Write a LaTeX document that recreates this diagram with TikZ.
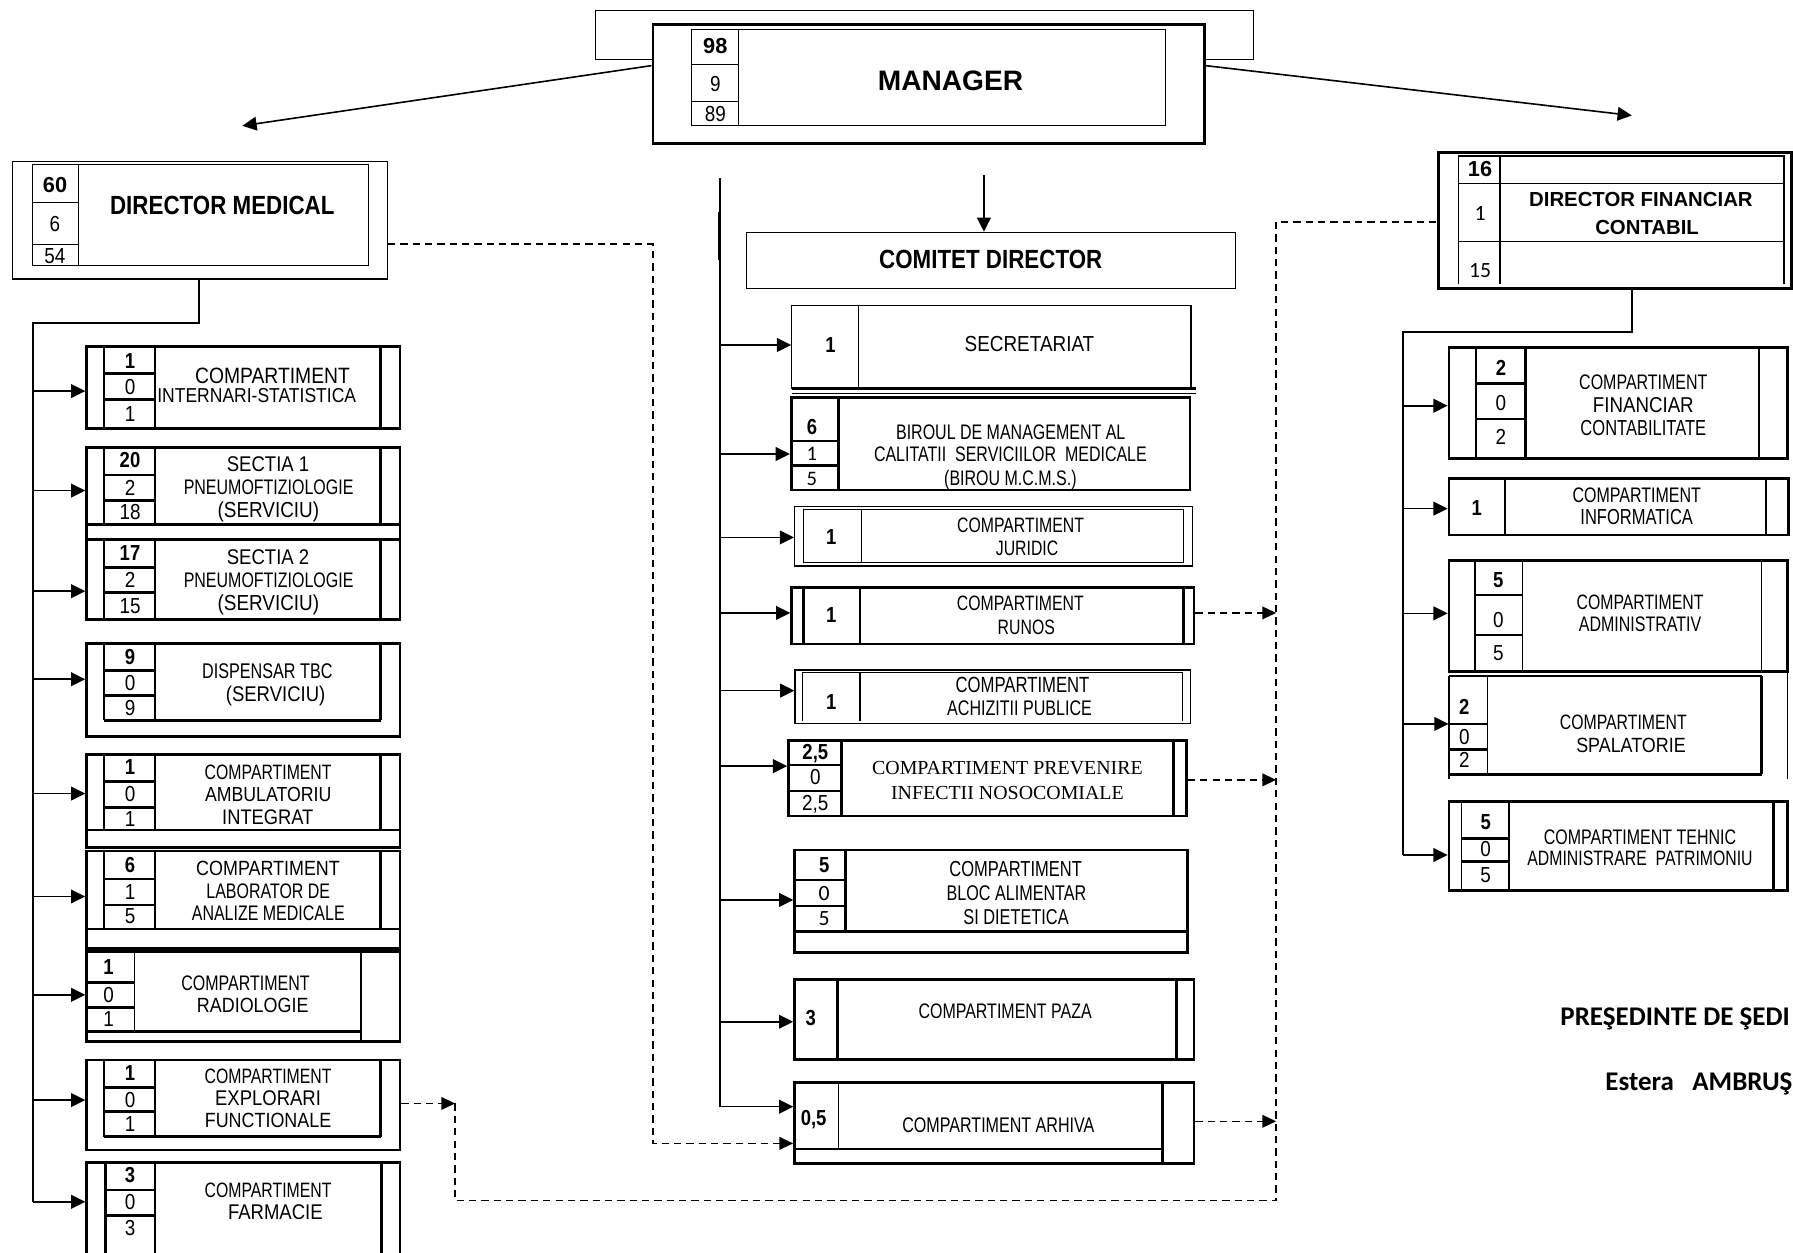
\documentclass[tikz,border=0pt]{standalone}
\usepackage{fontspec}
\setmainfont{Liberation Sans}
\newfontfamily\famNar{Liberation Sans}[FakeStretch=0.76]
\newfontfamily\famMid{Liberation Sans}[FakeStretch=0.87]
\newfontfamily\famNarB{Liberation Sans}[FakeStretch=0.85]
\newfontfamily\famSer{Liberation Serif}
\newfontfamily\famCal{Carlito}
\usetikzlibrary{arrows.meta,fit}
\newcommand\zN[1]{\famNar\fontsize{#1}{#1}\selectfont}
\newcommand\zM[1]{\famMid\fontsize{#1}{#1}\selectfont}
\newcommand\zB[1]{\famNarB\bfseries\fontsize{#1}{#1}\selectfont}
\newcommand\zR[1]{\normalfont\bfseries\fontsize{#1}{#1}\selectfont}
\newcommand\zS[1]{\famSer\fontsize{#1}{#1}\selectfont}
\newcommand\zC[1]{\famCal\fontsize{#1}{#1}\selectfont}
\newcommand\zCB[1]{\famCal\bfseries\fontsize{#1}{#1}\selectfont}
\newcommand\txn[4]{\node[tx,font=#2] (#1) at (#3) {#4};}
\tikzset{
 thn/.style={line width=0.5pt},
 thk/.style={line width=1.25pt},
 medl/.style={line width=0.8pt},
 arr/.style={line width=0.7pt,-{Triangle[length=6.2pt,width=6pt]}},
 darr/.style={line width=0.7pt,dash pattern=on 3.2pt off 2.2pt,-{Triangle[length=6pt,width=5.5pt]}},
 dln/.style={line width=0.7pt,dash pattern=on 3.2pt off 2.2pt},
 bx/.style={draw,inner sep=0pt},
 tx/.style={inner sep=0pt,text height=6.6pt,text depth=0pt},
}
\begin{document}
\begin{tikzpicture}[x=0.5pt,y=-0.5pt]
\useasboundingbox (0,0) rectangle (1568,1095);
\clip (0,0) rectangle (1568,1095);
\fill[white] (0,0) rectangle (1568,1095);

% ================= MANAGER =================
\node[bx,thn,fit={(521,9.3)(1096,51.9)}] (mgrback) {};
\node[bx,thk,fill=white,fit={(571,21.3)(1053,125.3)}] (mgr) {};
\node[bx,thn,fit={(605,25.6)(1019,109.9)}] (mgrtab) {};
\draw[thn] (646,25.6) -- (646,109.9) (605,56.3) -- (646,56.3) (605,88.9) -- (646,88.9);
\txn{m98}{\zR{9.5}}{625.5,40.5}{98}
\txn{m9}{\zM{9.5}}{625.5,73}{9}
\txn{m89}{\zM{9.5}}{625.5,100}{89}
\node[tx,font=\zR{12.3},text height=8.8pt] (mgrt) at (831.2,70) {MANAGER};
\coordinate (mLe) at (212,110);
\coordinate (mRe) at (1427,101);
\draw[arr] ([yshift=7.95pt]mgr.west) -- (mLe);
\draw[arr] ([yshift=7.95pt]mgr.east) -- (mRe);

% ================= COMITET =================
\node[bx,thn,fit={(652.7,203.2)(1080.6,252.2)}] (cd) {};
\node[tx,font=\zB{11.5},text height=8.2pt] (cdt) at (866.4,226.5) {COMITET DIRECTOR};
\coordinate (cdIn) at (860.5,153);
\draw[arr] (cdIn) -- (cdIn |- cd.north);

% central trunk
\coordinate (cTop) at (629.5,156);
\coordinate (cBot) at (629.5,967.8);
\draw[medl] (cTop) -- (cBot);
\draw[line width=1.4pt] (629.5,185) -- (629.5,227.4);

% C1 secretariat
\node[bx,thn,fit={(692.3,267.3)(1041.5,339.6)}] (c1) {};
\draw[thn] (751.1,267.3) -- (751.1,339.6);
\draw[thk] (692.3,339.6) -- (1046.3,339.6);
\draw[thn] (692.3,343.8) -- (1046.3,343.8);
\txn{c1n}{\zB{9.5}}{726.2,301.7}{1}
\txn{c1t}{\zM{9.5}}{900.3,301.1}{SECRETARIAT}
\draw[arr] (cTop |- 0,301.7) -- (c1.west |- 0,301.7);

% C2 biroul
\node[bx,thk,fit={(692,347.5)(1040.7,428.5)}] (c2) {};
\draw[thk] (733.3,347.5) -- (733.3,428.5) (692,385.7) -- (733.3,385.7) (692,407) -- (733.3,407);
\txn{c2n1}{\zB{9.5}}{710,373}{6}
\txn{c2n2}{\zC{9}}{710,396.4}{1}
\txn{c2n3}{\zC{9}}{710,418.3}{5}
\txn{c2t1}{\zN{9.2}}{883.9,377.5}{BIROUL DE MANAGEMENT AL}
\txn{c2t2}{\zN{9.2}}{883.6,397}{CALITATII~ SERVICIILOR~ MEDICALE}
\txn{c2t3}{\zN{9.2}}{883.6,418.3}{(BIROU M.C.M.S.)}
\draw[arr] (cTop |- 0,397) -- (c2.west |- 0,397);

% C3 juridic
\node[bx,thn,fit={(694.9,443.1)(1042.5,495)}] (c3) {};
\draw[thn] (702.4,445.4) rectangle (1034.7,491.8);
\draw[thn] (753.3,445.4) -- (753.3,491.8);
\txn{c3n}{\zB{9.5}}{727,469.9}{1}
\txn{c3t1}{\zN{9.1}}{892.5,459.1}{COMPARTIMENT}
\txn{c3t2}{\zN{9.1}}{898.2,478.9}{JURIDIC}
\draw[arr] (cTop |- 0,470) -- (c3.west |- 0,470);

% C4 runos
\node[bx,thk,fit={(692.4,513.6)(1044.1,563.2)}] (c4) {};
\draw[thk] (702.4,513.6) -- (702.4,563.2) (752.1,513.6) -- (752.1,563.2) (1034.7,513.6) -- (1034.7,563.2);
\txn{c4n}{\zB{9.5}}{727,537.8}{1}
\txn{c4t1}{\zN{9.1}}{892.3,527.6}{COMPARTIMENT}
\txn{c4t2}{\zN{9.1}}{897.5,548}{RUNOS}
\draw[arr] (cTop |- 0,536) -- (c4.west |- 0,536);

% C5 achizitii
\node[bx,thn,fit={(695.2,585.9)(1041.3,632.6)}] (c5) {};
\draw[thn] (701.5,630.2) -- (701.5,588.3) -- (1033.8,588.3) -- (1033.8,630.2);
\draw[thn] (752.1,588.3) -- (752.1,630.2);
\txn{c5n}{\zB{9.5}}{727,613.6}{1}
\txn{c5t1}{\zN{9.6}}{894.2,599}{COMPARTIMENT}
\txn{c5t2}{\zN{9.25}}{891.6,619.4}{ACHIZITII PUBLICE}
\draw[arr] (cTop |- 0,604) -- (c5.west |- 0,604);

% C6 prevenire
\node[bx,thk,fit={(689.6,647.7)(1037.5,713.6)}] (c6) {};
\draw[thk] (735.6,647.7) -- (735.6,713.6) (689.6,669) -- (735.6,669) (689.6,691.7) -- (735.6,691.7) (1026,647.7) -- (1026,713.6);
\txn{c6n1}{\zB{9.5}}{713,657.3}{2,5}
\txn{c6n2}{\zM{9.5}}{713,679.2}{0}
\txn{c6n3}{\zM{9.5}}{713,701.9}{2,5}
\txn{c6t1}{\zS{8.7}}{881,671}{COMPARTIMENT PREVENIRE}
\txn{c6t2}{\zS{8.7}}{881,692.3}{INFECTII NOSOCOMIALE}
\draw[arr] (cTop |- 0,670) -- (c6.west |- 0,670);

% C7 bloc alimentar
\node[bx,thk,fit={(694.9,743.3)(1038.5,833.1)}] (c7) {};
\draw[thk] (739.6,743.3) -- (739.6,814.7) (694.9,769.6) -- (739.6,769.6) (694.9,792.3) -- (739.6,792.3) (694.9,814.7) -- (1038.5,814.7);
\txn{c7n1}{\zB{9.5}}{720.8,756.4}{5}
\txn{c7n2}{\zC{9.5}}{720.8,780.6}{0}
\txn{c7n3}{\zC{9.5}}{720.8,803.1}{5}
\txn{c7t1}{\zN{9.5}}{888.2,760.2}{COMPARTIMENT}
\txn{c7t2}{\zN{9.3}}{888.9,781.2}{BLOC ALIMENTAR}
\txn{c7t3}{\zN{9.4}}{888.5,801.6}{SI DIETETICA}
\draw[arr] (cTop |- 0,787) -- (c7.west |- 0,787);

% C8 paza
\node[bx,thk,fit={(694.9,856.4)(1044.1,926.4)}] (c8) {};
\draw[thk] (732.4,856.4) -- (732.4,926.4) (1029.1,856.4) -- (1029.1,926.4);
\txn{c8n}{\zB{9.5}}{709,890.5}{3}
\txn{c8t}{\zN{9.2}}{879,884.1}{COMPARTIMENT PAZA}
\draw[arr] (cTop |- 0,893.5) -- (c8.west |- 0,893.5);

% C9 arhiva
\node[bx,thk,fit={(694.9,946.5)(1044.1,1017.4)}] (c9) {};
\draw[thn] (733,946.5) -- (733,1004.8);
\draw[thk] (1016.6,946.5) -- (1016.6,1017.4) (694.9,1004.8) -- (1016.6,1004.8);
\txn{c9n}{\zB{9.5}}{711.5,977.4}{0,5}
\txn{c9t}{\zN{9.25}}{873.1,983.8}{COMPARTIMENT ARHIVA}
\draw[arr] (cBot) -- (c9.west |- cBot);

% ================= DIRECTOR MEDICAL =================
\node[bx,thn,fit={(10.8,141.4)(338.7,244)}] (dm) {};
\draw[thn] (28.3,143.7) rectangle (322,232.3);
\draw[thn] (68.5,143.7) -- (68.5,232.3) (28.3,177) -- (68.5,177) (28.3,213.6) -- (68.5,213.6);
\txn{dm60}{\zR{9.5}}{48.1,161.8}{60}
\txn{dm6}{\zM{9.5}}{48.1,196}{6}
\txn{dm54}{\zM{9.5}}{48.1,224}{54}
\node[tx,font=\zB{11.5},text height=8.2pt] (dmt) at (194.4,179) {DIRECTOR MEDICAL};

% left trunk
\coordinate (lTr) at (29.2,282.7);
\draw[medl] (dm.south -| 174,0) -- (174,282.7) -- (lTr) -- (29.2,1051);

% L1
\node[bx,thk,fit={(75.8,303)(349.8,375)}] (l1) {};
\draw[thk] (91,303) -- (91,375) (135.6,303) -- (135.6,375) (333,303) -- (333,375) (91,327) -- (135.6,327) (91,349) -- (135.6,349);
\txn{l1n1}{\zB{9.5}}{113.7,315.5}{1}
\txn{l1n2}{\zM{9.5}}{113.7,338}{0}
\txn{l1n3}{\zM{9.5}}{113.7,362}{1}
\txn{l1t1}{\zM{9.7}}{238.3,328.8}{COMPARTIMENT}
\txn{l1t2}{\zM{8.8}}{224.5,345.4}{INTERNARI-STATISTICA}
\draw[arr] (lTr |- 0,342) -- (l1.west |- 0,342);

% L2 and L3
\node[bx,thk,fit={(75.8,391)(349.8,459)}] (l2) {};
\node[bx,thk,fit={(75.8,471.6)(349.8,542)}] (l3) {};
\draw[thk] (75.8,459) -- (75.8,471.6) (349.8,459) -- (349.8,471.6);
\draw[thk] (91,391) -- (91,459) (135.6,391) -- (135.6,459) (333,391) -- (333,459) (91,415.4) -- (135.6,415.4) (91,437.8) -- (135.6,437.8);
\draw[thk] (91,471.6) -- (91,542) (135.6,471.6) -- (135.6,542) (333,471.6) -- (333,542) (91,496) -- (135.6,496) (91,518) -- (135.6,518);
\txn{l2n1}{\zB{9.5}}{113.7,402.5}{20}
\txn{l2n2}{\zM{9.5}}{113.7,426.5}{2}
\txn{l2n3}{\zM{9.5}}{113.7,448}{18}
\txn{l2t1}{\zM{9.3}}{234.4,406}{SECTIA 1}
\txn{l2t2}{\zN{9.2}}{234.9,426}{PNEUMOFTIZIOLOGIE}
\txn{l2t3}{\zM{9.5}}{234.7,446}{(SERVICIU)}
\draw[arr] (lTr |- 0,429) -- (l2.west |- 0,429);
\txn{l3n1}{\zB{9.5}}{113.7,483.5}{17}
\txn{l3n2}{\zM{9.5}}{113.7,507}{2}
\txn{l3n3}{\zM{9.5}}{113.7,530}{15}
\txn{l3t1}{\zM{9.3}}{234.4,486.8}{SECTIA 2}
\txn{l3t2}{\zN{9.2}}{234.9,507.2}{PNEUMOFTIZIOLOGIE}
\txn{l3t3}{\zM{9.5}}{234.7,527}{(SERVICIU)}
\draw[arr] (lTr |- 0,517) -- (l3.west |- 0,517);

% L4
\node[bx,thk,fit={(75.8,563)(349.8,644)}] (l4) {};
\draw[thk] (91,563) -- (91,630) (135.6,563) -- (135.6,630) (333,563) -- (333,630) (91,586.5) -- (135.6,586.5) (91,608.4) -- (135.6,608.4) (91,630) -- (333,630);
\txn{l4n1}{\zB{9.5}}{113.7,574.5}{9}
\txn{l4n2}{\zM{9.5}}{113.7,597.5}{0}
\txn{l4n3}{\zM{9.5}}{113.7,619}{9}
\txn{l4t1}{\zN{9.3}}{233.8,587}{DISPENSAR TBC}
\txn{l4t2}{\zM{9.3}}{241,607}{(SERVICIU)}
\draw[arr] (lTr |- 0,594) -- (l4.west |- 0,594);

% L5 and L6
\node[bx,thk,fit={(75.8,659.7)(349.8,741)}] (l5) {};
\node[bx,thk,fit={(75.8,744.2)(349.8,829.3)}] (l6) {};
\draw[thk] (91,659.7) -- (91,725.9) (135.6,659.7) -- (135.6,725.9) (333,659.7) -- (333,725.9) (91,683.6) -- (135.6,683.6) (91,706) -- (135.6,706) (75.8,725.9) -- (349.8,725.9);
\draw[thk] (91,744.2) -- (91,812.4) (135.6,744.2) -- (135.6,812.4) (333,744.2) -- (333,812.4) (91,768.7) -- (135.6,768.7) (91,791.4) -- (135.6,791.4) (75.8,812.4) -- (349.8,812.4);
\txn{l5n1}{\zB{9.5}}{113.7,671}{1}
\txn{l5n2}{\zM{9.5}}{113.7,694.5}{0}
\txn{l5n3}{\zM{9.5}}{113.7,716}{1}
\txn{l5t1}{\zN{9.1}}{234.5,674.8}{COMPARTIMENT}
\txn{l5t2}{\zM{8.9}}{234.5,694.4}{AMBULATORIU}
\txn{l5t3}{\zM{9.2}}{234.2,714.2}{INTEGRAT}
\draw[arr] (lTr |- 0,694) -- (l5.west |- 0,694);
\txn{l6n1}{\zB{9.5}}{113.7,756}{6}
\txn{l6n2}{\zM{9.5}}{113.7,780}{1}
\txn{l6n3}{\zM{9.5}}{113.7,801}{5}
\txn{l6t1}{\zM{9.0}}{234.4,759.4}{COMPARTIMENT}
\txn{l6t2}{\zN{9.2}}{234.6,778.9}{LABORATOR DE}
\txn{l6t3}{\zN{9.2}}{234.6,798.1}{ANALIZE MEDICALE}
\draw[arr] (lTr |- 0,784) -- (l6.west |- 0,784);

% L7
\node[bx,thk,fit={(75.8,832.3)(349.8,911)}] (l7) {};
\draw[thn] (117.5,832.3) -- (117.5,902);
\draw[thk] (315.7,832.3) -- (315.7,911) (75.8,859) -- (117.5,859) (75.8,881) -- (117.5,881) (75.8,902) -- (315.7,902);
\txn{l7n1}{\zB{9.5}}{95,846}{1}
\txn{l7n2}{\zM{9.5}}{95,870}{0}
\txn{l7n3}{\zM{9.5}}{95,891}{1}
\txn{l7t1}{\zN{9.2}}{214.7,859.3}{COMPARTIMENT}
\txn{l7t2}{\zM{9.0}}{221,878.9}{RADIOLOGIE}
\draw[arr] (lTr |- 0,870) -- (l7.west |- 0,870);

% L8
\node[bx,thk,fit={(75.8,927)(349.8,1005.7)}] (l8) {};
\draw[thk] (91,927) -- (91,994) (333,927) -- (333,994) (91,950.9) -- (135.6,950.9) (91,972) -- (135.6,972) (91,994) -- (333,994);
\draw[thn] (135.6,927) -- (135.6,994);
\txn{l8n1}{\zB{9.5}}{113.7,938.5}{1}
\txn{l8n2}{\zM{9.5}}{113.7,961.5}{0}
\txn{l8n3}{\zM{9.5}}{113.7,983}{1}
\txn{l8t1}{\zN{9.1}}{234.4,941}{COMPARTIMENT}
\txn{l8t2}{\zM{9.3}}{234.4,960.5}{EXPLORARI}
\txn{l8t3}{\zM{9.0}}{234.4,979.5}{FUNCTIONALE}
\draw[arr] (lTr |- 0,962) -- (l8.west |- 0,962);

% L9
\node[bx,thk,fit={(75.8,1016.5)(349.8,1100)}] (l9) {};
\draw[thk] (92.5,1016.5) -- (92.5,1100) (135.6,1016.5) -- (135.6,1100) (333.7,1016.5) -- (333.7,1100) (92.5,1040.7) -- (135.6,1040.7) (92.5,1063) -- (135.6,1063);
\txn{l9n1}{\zB{9.5}}{113.7,1027.5}{3}
\txn{l9n2}{\zM{9.5}}{113.7,1051.5}{0}
\txn{l9n3}{\zM{9.5}}{113.7,1074}{3}
\txn{l9t1}{\zN{9.1}}{234.4,1040.7}{COMPARTIMENT}
\txn{l9t2}{\zM{9.3}}{240.8,1059.6}{FARMACIE}
\draw[arr] (lTr |- 0,1051) -- (l9.west |- 0,1051);

% ================= DIRECTOR FINANCIAR =================
\node[bx,thk,fit={(1257.8,133.2)(1567,252.2)}] (dfin) {};
\draw[thn] (1275.3,248.4) -- (1275.3,136.4) -- (1560.1,136.4) -- (1560.1,248.4);
\draw[thn] (1311.8,136.4) -- (1311.8,248.4) (1275.3,160.3) -- (1560.1,160.3) (1275.3,211.4) -- (1560.1,211.4);
\txn{df16}{\zR{9.5}}{1294.3,148.1}{16}
\txn{df1}{\zC{9.5}}{1294.3,186.6}{1}
\txn{df15}{\zC{9.5}}{1294.3,236.1}{15}
\txn{dft1}{\zR{8.9}}{1435,174.3}{DIRECTOR FINANCIAR}
\txn{dft2}{\zR{8.9}}{1440.4,198.8}{CONTABIL}

% right trunk
\coordinate (rTr) at (1227.2,290.6);
\draw[medl] (dfin.south -| 1427,0) -- (1427,290.6) -- (rTr) -- (1227.2,747.7);

% R1
\node[bx,thk,fit={(1267.2,303.7)(1563,400.8)}] (r1) {};
\draw[thn] (1290.8,303.7) -- (1290.8,400.8);
\draw[thk] (1333.9,303.7) -- (1333.9,400.8) (1538.3,303.7) -- (1538.3,400.8) (1290.8,335.2) -- (1333.9,335.2) (1290.8,366.4) -- (1333.9,366.4);
\txn{r1n1}{\zB{9.5}}{1312.6,322.1}{2}
\txn{r1n2}{\zM{9.5}}{1312.6,352.7}{0}
\txn{r1n3}{\zM{9.5}}{1312.6,381.9}{2}
\txn{r1t1}{\zN{9.2}}{1437.1,333.8}{COMPARTIMENT}
\txn{r1t2}{\zM{9.4}}{1437.1,354.2}{FINANCIAR}
\txn{r1t3}{\zN{9.5}}{1437.1,374.6}{CONTABILITATE}
\draw[arr] (rTr |- 0,354.8) -- (r1.west |- 0,354.8);

% R2
\node[bx,thk,fit={(1267.2,418.3)(1563.9,467.9)}] (r2) {};
\draw[thk] (1316.1,418.3) -- (1316.1,467.9) (1544.4,418.3) -- (1544.4,467.9);
\txn{r2n}{\zB{9.5}}{1291.4,444.6}{1}
\txn{r2t1}{\zN{9.2}}{1431.3,432.9}{COMPARTIMENT}
\txn{r2t2}{\zN{9.5}}{1431.3,452.4}{INFORMATICA}
\draw[arr] (rTr |- 0,444.8) -- (r2.west |- 0,444.8);

% R3
\node[bx,thk,fit={(1267.2,490.3)(1563,587.4)}] (r3) {};
\draw[thn] (1289.9,490.3) -- (1289.9,587.4) (1331.3,490.3) -- (1331.3,587.4) (1540.6,490.3) -- (1540.6,587.4);
\draw[thk] (1289.9,520.3) -- (1331.3,520.3) (1289.9,555.3) -- (1331.3,555.3);
\draw[thn] (1267.2,591.2) -- (1540.6,591.2);
\txn{r3n1}{\zB{9.5}}{1310.3,507.2}{5}
\txn{r3n2}{\zM{9.5}}{1310.3,542.2}{0}
\txn{r3n3}{\zM{9.5}}{1310.3,571.3}{5}
\txn{r3t1}{\zN{9.1}}{1434.2,526.2}{COMPARTIMENT}
\txn{r3t2}{\zN{9.2}}{1434.2,545.7}{ADMINISTRATIV}
\draw[arr] (rTr |- 0,536.4) -- (r3.west |- 0,536.4);

% R4
\node[inner sep=0pt,fit={(1267.2,591.2)(1563,681.5)}] (r4) {};
\draw[thk] (1267.2,591.2) -- (1267.2,681.5) (1540.6,591.2) -- (1540.6,677.2) (1267.2,677.2) -- (1540.6,677.2);
\draw[thn] (1563,587.4) -- (1563,681.5) (1300.7,591.2) -- (1300.7,677.2);
\draw[thk] (1267.2,633.1) -- (1300.7,633.1) (1267.2,655.3) -- (1300.7,655.3);
\txn{r4n1}{\zB{9.5}}{1280.6,618.6}{2}
\txn{r4n2}{\zM{9.5}}{1280.6,644.8}{0}
\txn{r4n3}{\zM{9.5}}{1280.6,664.6}{2}
\txn{r4t1}{\zN{9.1}}{1419.6,631.1}{COMPARTIMENT}
\txn{r4t2}{\zM{9.0}}{1426.3,651.5}{SPALATORIE}
\draw[arr] (rTr |- 0,633.1) -- (r4.west |- 0,633.1);

% R5
\node[bx,thk,fit={(1267.2,701.1)(1563,778.9)}] (r5) {};
\draw[thn] (1278.2,701.1) -- (1278.2,778.9) (1319.6,701.1) -- (1319.6,778.9);
\draw[thk] (1550.8,701.1) -- (1550.8,778.9) (1278.2,733.1) -- (1319.6,733.1) (1278.2,753.5) -- (1319.6,753.5);
\txn{r5n1}{\zB{9.5}}{1299.2,718.5}{5}
\txn{r5n2}{\zM{9.5}}{1299.2,742.8}{0}
\txn{r5n3}{\zM{9.5}}{1299.2,765.2}{5}
\txn{r5t1}{\zN{9.2}}{1434.2,732.3}{COMPARTIMENT TEHNIC}
\txn{r5t2}{\zN{9.1}}{1434.2,750.6}{ADMINISTRARE~ PATRIMONIU}
\draw[arr] (rTr |- 0,747.7) -- (r5.west |- 0,747.7);

% ================= DASHED LINKS =================
\coordinate (rTop) at (1116,194);
\coordinate (rBot) at (1116,1050);
\coordinate (lDash) at (398,965);
\coordinate (lBot) at (398,1050);
\coordinate (dmC) at (570.8,213.4);
\coordinate (dmD) at (570.8,999.9);
\draw[darr] (dm.east |- dmC) -- (dmC) -- (dmD) -- (c9.west |- dmD);
\draw[darr] (l8.east |- lDash) -- (lDash);
\draw[dln] (lDash) -- (lBot) -- (rBot) -- (rTop) -- (dfin.west |- rTop);
\draw[darr] (c4.east |- 0,536) -- (rTop |- 0,536);
\draw[darr] (c6.east |- 0,682) -- (rTop |- 0,682);
\draw[darr] (c9.east |- 0,980.6) -- (rTop |- 0,980.6);

% ================= SIGNATURE =================
\node[tx,anchor=west,font=\zCB{11.8},text height=7.6pt] (pres) at (1364.2,889.1) {PREŞEDINTE DE ŞEDI};
\node[tx,anchor=west,font=\zCB{11.8},text height=7.6pt] (estera) at (1403.6,945.9) {Estera~~~AMBRUŞ};
\end{tikzpicture}
\end{document}
